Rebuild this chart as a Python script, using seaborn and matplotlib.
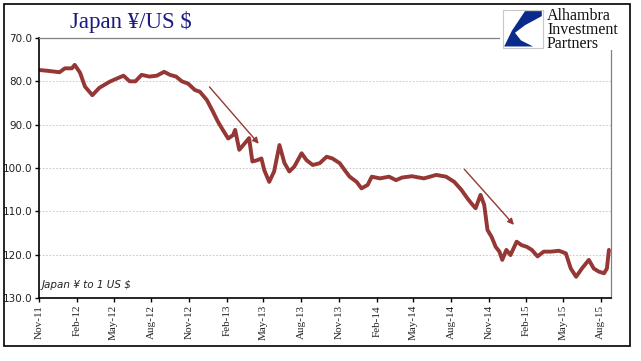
import seaborn as sns
import matplotlib.pyplot as plt
import matplotlib.patches as mpatches
import pandas as pd

# values (yen per 1 US $)
dates = [
    "2011-11-03", "2011-11-25", "2011-12-21", "2012-01-03", "2012-01-20", "2012-01-27",
    "2012-02-09", "2012-02-21", "2012-03-10", "2012-03-27", "2012-04-21", "2012-05-10",
    "2012-05-25", "2012-06-09", "2012-06-23", "2012-07-08", "2012-07-27", "2012-08-14",
    "2012-09-01", "2012-09-15", "2012-09-30", "2012-10-14", "2012-10-29", "2012-11-15",
    "2012-11-27", "2012-12-14", "2012-12-29", "2013-01-10", "2013-01-22", "2013-02-04",
    "2013-02-16", "2013-02-21", "2013-03-03", "2013-03-20", "2013-03-27", "2013-04-04",
    "2013-04-16", "2013-04-26", "2013-05-03", "2013-05-15", "2013-05-27", "2013-06-09",
    "2013-06-21", "2013-07-03", "2013-07-15", "2013-08-02", "2013-08-14", "2013-08-29",
    "2013-09-15", "2013-10-02", "2013-10-16", "2013-11-03", "2013-11-15", "2013-11-27",
    "2013-12-14", "2013-12-26", "2014-01-10", "2014-01-20", "2014-02-09", "2014-03-03",
    "2014-03-20", "2014-04-04", "2014-04-28", "2014-05-27", "2014-06-26", "2014-07-20",
    "2014-08-09", "2014-08-26", "2014-09-10", "2014-09-20", "2014-09-30", "2014-10-12",
    "2014-10-21", "2014-10-29", "2014-11-08", "2014-11-18", "2014-11-27", "2014-12-04",
    "2014-12-14", "2014-12-24", "2015-01-08", "2015-01-20", "2015-02-02", "2015-02-14",
    "2015-02-28", "2015-03-15", "2015-04-02", "2015-04-21", "2015-05-08", "2015-05-20",
    "2015-06-02", "2015-06-16", "2015-07-03", "2015-07-15", "2015-07-27", "2015-08-09",
    "2015-08-16", "2015-08-21",
]
yen = [
    77.4, 77.6, 77.9, 77.0, 77.0, 76.2,
    78.0, 81.2, 83.2, 81.5, 80.1, 79.3,
    78.7, 80.0, 80.0, 78.5, 78.9, 78.7,
    77.8, 78.5, 78.9, 80.0, 80.5, 82.0,
    82.4, 84.3, 87.0, 89.3, 91.2, 93.2,
    92.4, 91.2, 95.8, 93.9, 93.1, 98.5,
    98.2, 97.8, 100.5, 103.2, 100.8, 94.7,
    98.8, 100.8, 99.7, 96.6, 98.2, 99.3,
    98.9, 97.4, 97.8, 98.9, 100.5, 102.0,
    103.2, 104.7, 103.9, 102.0, 102.4, 102.0,
    102.8, 102.2, 101.9, 102.4, 101.6, 102.0,
    103.2, 105.0, 107.0, 108.2, 109.3, 106.2,
    108.5, 114.3, 115.9, 118.2, 119.3, 121.2,
    118.9, 120.1, 117.0, 117.8, 118.2, 118.9,
    120.4, 119.3, 119.3, 119.1, 119.7, 123.2,
    125.1, 123.2, 121.2, 123.2, 123.9, 124.3,
    123.2, 118.9,
]
tick_dates = pd.date_range("2011-11-01", "2015-08-01", freq="3MS")
y_ticks = [70, 80, 90, 100, 110, 120, 130]

df = pd.DataFrame({"date": pd.to_datetime(dates), "yen": yen})

sns.set_style("white")
plt.rcParams["font.family"] = ["DejaVu Sans"]

fig = plt.figure(figsize=(6.41, 3.61), dpi=100)
ax = fig.add_axes([39 / 641, 1 - 298 / 361, 572 / 641, 260 / 361])

sns.lineplot(data=df, x="date", y="yen", ax=ax, color="#953735", linewidth=2.8)

ax.set_xlim(pd.Timestamp("2011-11-01"), pd.Timestamp("2015-08-26"))
ax.set_ylim(130, 70)
ax.set_yticks(y_ticks)
ax.set_yticklabels([f"{v:.1f}" for v in y_ticks], fontsize=7.5, color="#222222")
ax.set_xticks(tick_dates)
ax.set_xticklabels([d.strftime("%b-%y") for d in tick_dates], rotation=90,
                   fontsize=8, family="Liberation Serif", color="#222222")
ax.set_xlabel("")
ax.set_ylabel("")
ax.tick_params(axis="both", which="both", direction="out", length=3, width=1,
               color="black", pad=2, left=True, bottom=True)

for v in y_ticks[1:-1]:
    ax.axhline(v, color="#c0c0c0", linewidth=0.6, linestyle=(0, (2, 2)), zorder=0)

ax.spines["left"].set_color("black")
ax.spines["bottom"].set_color("black")
ax.spines["left"].set_linewidth(1.2)
ax.spines["bottom"].set_linewidth(1.2)
ax.spines["top"].set_color("#808080")
ax.spines["right"].set_color("#808080")
ax.spines["top"].set_linewidth(0.9)
ax.spines["right"].set_linewidth(0.9)

# trend arrows
arrow_kw = dict(arrowstyle="-|>", color="#953735", lw=1.0, mutation_scale=9)
ax.annotate("", xy=(pd.Timestamp("2013-04-24"), 94.9),
            xytext=(pd.Timestamp("2012-12-16"), 80.8), arrowprops=arrow_kw)
ax.annotate("", xy=(pd.Timestamp("2015-01-06"), 113.6),
            xytext=(pd.Timestamp("2014-08-29"), 99.8), arrowprops=arrow_kw)

ax.text(0.005, 0.05, "Japan ¥ to 1 US $", transform=ax.transAxes, fontsize=7.5,
        style="italic", color="#222222", ha="left", va="center")

# title
fig.text(70 / 641, 1 - 22 / 361, "Japan ¥/US $", fontsize=16.5, color="#1a1a80",
         family="Liberation Serif", ha="left", va="center")

# logo area
fig.patches.append(mpatches.Rectangle((500 / 641, 1 - 50 / 361), 128 / 641, 44 / 361,
                                      transform=fig.transFigure, facecolor="white",
                                      edgecolor="none", zorder=5))
lx, ly, lw, lh = 503 / 641, 1 - 48 / 361, 40 / 641, 38 / 361
fig.patches.append(mpatches.Rectangle((lx, ly), lw, lh, transform=fig.transFigure,
                                      facecolor="white", edgecolor="#c8c8c8",
                                      linewidth=0.8, zorder=6))
shape = [(0.55, 0.97), (0.97, 0.97), (0.97, 0.84), (0.55, 0.6), (0.3, 0.4),
         (0.45, 0.2), (0.75, 0.04), (0.03, 0.04), (0.22, 0.45)]
fig.patches.append(mpatches.Polygon([(lx + px * lw, ly + py * lh) for px, py in shape],
                                    closed=True, transform=fig.transFigure,
                                    facecolor="#0a2a8c", edgecolor="none", zorder=7))
fig.text(547 / 641, 1 - 8 / 361, "Alhambra\nInvestment\nPartners", fontsize=11.5,
         family="Liberation Serif", color="#111111", ha="left", va="top",
         linespacing=0.85, zorder=8)

# outer frame
fig.patches.append(mpatches.Rectangle((4 / 641, 1 - 346 / 361), 626 / 641, 342 / 361,
                                      transform=fig.transFigure, facecolor="none",
                                      edgecolor="black", linewidth=1.2, zorder=9))

fig.savefig("out.png", dpi=100)
